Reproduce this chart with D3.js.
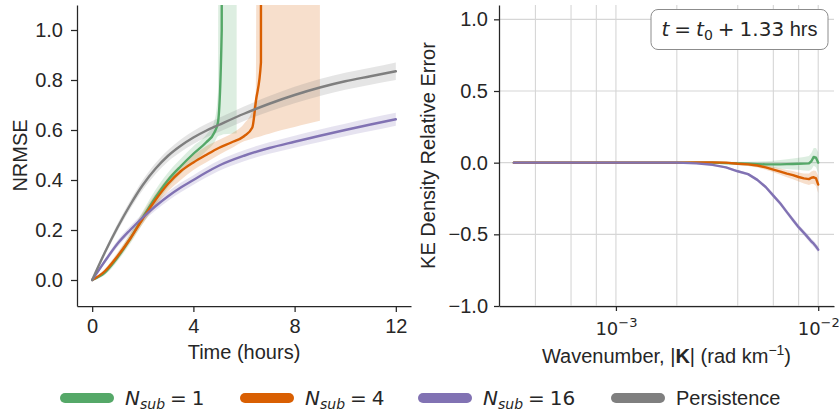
<!DOCTYPE html>
<html>
<head>
<meta charset="utf-8">
<script src="https://cdn.jsdelivr.net/npm/d3@7"></script>
<style>
  html, body { margin: 0; padding: 0; background: #ffffff; }
  svg { display: block; }
</style>
</head>
<body>
<script>
// ---------------- DATA ----------------
// Left panel: NRMSE vs time (hours)
const leftXTicks = [0, 4, 8, 12];
const leftYTicks = [0.0, 0.2, 0.4, 0.6, 0.8, 1.0];

const nsub1Time = [0, 0.5, 1, 1.5, 2, 2.5, 3, 3.5, 4, 4.5, 4.83, 4.97, 5.12, 5.2, 5.5, 5.71];
const nsub1Mean = [0, 0.03, 0.09, 0.165, 0.25, 0.33, 0.40, 0.455, 0.505, 0.55, 0.59, 0.63, 1.0, 50, 50, 50];
const nsub1Lo   = [0, 0.02, 0.075, 0.145, 0.225, 0.30, 0.37, 0.425, 0.47, 0.515, 0.55, 0.575, 0.58, 0.583, 0.585, 0.587];
const nsub1Hi   = [0, 0.04, 0.105, 0.185, 0.275, 0.36, 0.43, 0.485, 0.535, 0.58, 0.635, 0.75, 30, 30, 30, 30];

const nsub4Time = [0, 0.5, 1, 1.5, 2, 2.5, 3, 3.5, 4, 4.5, 5, 5.5, 6, 6.33, 6.47, 6.67, 6.75, 7, 7.5, 8, 8.5, 9];
const nsub4Mean = [0, 0.035, 0.095, 0.165, 0.245, 0.32, 0.385, 0.435, 0.47, 0.50, 0.528, 0.55, 0.575, 0.61, 0.715, 0.87, 50, 50, 50, 50, 50, 50];
const nsub4Lo   = [0, 0.025, 0.08, 0.15, 0.225, 0.295, 0.355, 0.40, 0.44, 0.47, 0.50, 0.527, 0.555, 0.565, 0.57, 0.575, 0.578, 0.585, 0.60, 0.612, 0.625, 0.637];
const nsub4Hi   = [0, 0.045, 0.11, 0.185, 0.27, 0.345, 0.41, 0.46, 0.50, 0.535, 0.56, 0.585, 0.625, 0.68, 0.76, 30, 30, 30, 30, 30, 30, 30];

const nsub16Time = [0, 0.5, 1, 1.5, 2, 2.5, 3, 3.5, 4, 4.5, 5, 6, 7, 8, 9, 10, 11, 12];
const nsub16Mean = [0, 0.075, 0.145, 0.20, 0.25, 0.295, 0.335, 0.37, 0.40, 0.43, 0.457, 0.497, 0.528, 0.553, 0.577, 0.600, 0.622, 0.643];
const nsub16Lo   = [0, 0.066, 0.132, 0.185, 0.234, 0.278, 0.317, 0.351, 0.381, 0.41, 0.436, 0.475, 0.505, 0.529, 0.552, 0.575, 0.596, 0.617];
const nsub16Hi   = [0, 0.084, 0.158, 0.215, 0.266, 0.312, 0.353, 0.389, 0.419, 0.45, 0.478, 0.519, 0.551, 0.577, 0.602, 0.625, 0.648, 0.669];

const persTime = [0, 0.5, 1, 1.5, 2, 2.5, 3, 3.5, 4, 4.5, 5, 6, 7, 8, 9, 10, 11, 12];
const persMean = [0, 0.11, 0.21, 0.30, 0.38, 0.445, 0.497, 0.537, 0.57, 0.597, 0.62, 0.665, 0.705, 0.74, 0.77, 0.795, 0.815, 0.835];
const persLo   = [0, 0.10, 0.195, 0.283, 0.36, 0.423, 0.474, 0.512, 0.544, 0.57, 0.592, 0.636, 0.674, 0.707, 0.736, 0.761, 0.781, 0.8];
const persHi   = [0, 0.12, 0.225, 0.317, 0.40, 0.467, 0.52, 0.562, 0.596, 0.624, 0.648, 0.694, 0.736, 0.773, 0.804, 0.829, 0.849, 0.87];

// Right panel: KE density relative error vs wavenumber
const rightYTicks = [-1.0, -0.5, 0.0, 0.5, 1.0];
const rightXTicks = [1e-3, 1e-2];
const rightXTickExp = ["−3", "−2"];
const rightGridK = [4e-4, 6e-4, 8e-4, 1e-3, 2e-3, 4e-3, 6e-3, 8e-3, 1e-2];

const wavenumber = [3.13e-4, 5e-4, 1e-3, 1.5e-3, 2e-3, 2.5e-3, 3e-3, 3.5e-3, 4e-3, 4.5e-3, 5e-3, 5.5e-3, 6e-3, 6.5e-3, 7e-3, 7.5e-3, 8e-3, 8.5e-3, 9e-3, 9.25e-3, 9.5e-3, 9.75e-3, 1e-2];
const keNsub1  = [0, 0, 0, 0, 0, 0.0, 0.0, -0.003, -0.005, -0.008, -0.01, -0.012, -0.012, -0.012, -0.01, -0.009, -0.008, -0.007, -0.005, 0.01, 0.04, 0.035, 0.0];
const keNsub1Err = [0, 0, 0, 0, 0.002, 0.004, 0.006, 0.009, 0.012, 0.015, 0.018, 0.022, 0.026, 0.03, 0.034, 0.038, 0.042, 0.047, 0.052, 0.057, 0.062, 0.067, 0.072];
const keNsub4  = [0, 0, 0, 0, 0, 0.002, 0.002, 0.0, -0.008, -0.012, -0.02, -0.033, -0.048, -0.062, -0.077, -0.087, -0.1, -0.11, -0.115, -0.105, -0.102, -0.11, -0.153];
const keNsub4Err = [0, 0, 0, 0, 0.002, 0.003, 0.005, 0.007, 0.009, 0.011, 0.013, 0.016, 0.019, 0.022, 0.025, 0.028, 0.031, 0.035, 0.04, 0.043, 0.047, 0.052, 0.058];
const keNsub16 = [0, 0, 0, 0, 0, -0.005, -0.015, -0.033, -0.06, -0.08, -0.12, -0.17, -0.23, -0.285, -0.345, -0.40, -0.45, -0.49, -0.53, -0.55, -0.565, -0.585, -0.607];
const keNsub16Err = [0, 0, 0, 0, 0.003, 0.004, 0.005, 0.007, 0.008, 0.009, 0.011, 0.012, 0.014, 0.015, 0.016, 0.017, 0.018, 0.019, 0.02, 0.02, 0.021, 0.021, 0.022];

const legendLabels = ["1", "4", "16", "Persistence"];
const colors = ["#55a868", "#d95f02", "#8172b3", "#7f7f7f"];

// ---------------- DRAW ----------------
const W = 839, H = 415;
const FONT = "'Liberation Sans', Arial, sans-serif";
const MATH = "'DejaVu Sans', sans-serif";
const INK = "#262626";

const svg = d3.select("body").append("svg").attr("width", W).attr("height", H);
const defs = svg.append("defs");

// ---- Left panel ----
const xL = d3.scaleLinear().domain([-0.6, 12.6]).range([77, 411]);
const yL = d3.scaleLinear().domain([-0.104, 1.1]).range([306, 5]);

defs.append("clipPath").attr("id", "clipL").append("rect")
  .attr("x", 77).attr("y", 5).attr("width", 334).attr("height", 301);

const gL = svg.append("g");
const plotL = gL.append("g").attr("clip-path", "url(#clipL)");

function zipSeries(t, m, lo, hi) {
  return t.map((d, i) => ({ x: d, m: m[i], lo: lo[i], hi: hi[i] }));
}
const leftSeries = [
  zipSeries(nsub1Time, nsub1Mean, nsub1Lo, nsub1Hi),
  zipSeries(nsub4Time, nsub4Mean, nsub4Lo, nsub4Hi),
  zipSeries(nsub16Time, nsub16Mean, nsub16Lo, nsub16Hi),
  zipSeries(persTime, persMean, persLo, persHi)
];

const areaL = d3.area().curve(d3.curveMonotoneX).x(d => xL(d.x)).y0(d => yL(d.lo)).y1(d => yL(d.hi));
const lineL = d3.line().curve(d3.curveMonotoneX).x(d => xL(d.x)).y(d => yL(d.m));

leftSeries.forEach((s, i) => {
  plotL.append("path").attr("d", areaL(s)).attr("fill", colors[i]).attr("fill-opacity", 0.2).attr("stroke", "none");
});
leftSeries.forEach((s, i) => {
  plotL.append("path").attr("d", lineL(s)).attr("fill", "none").attr("stroke", colors[i])
    .attr("stroke-width", 2.4).attr("stroke-linejoin", "round").attr("stroke-linecap", "round");
});

const axLy = gL.append("g").attr("transform", "translate(77,0)")
  .call(d3.axisLeft(yL).tickValues(leftYTicks).tickFormat(d3.format(".1f")).tickSize(6).tickSizeOuter(0).tickPadding(8));
const axLx = gL.append("g").attr("transform", "translate(0,306)")
  .call(d3.axisBottom(xL).tickValues(leftXTicks).tickFormat(d3.format("d")).tickSize(6).tickSizeOuter(0).tickPadding(7));
[axLy, axLx].forEach(a => {
  a.selectAll("text").attr("font-size", 20).attr("font-family", FONT).attr("fill", INK);
  a.selectAll("line").attr("stroke", INK).attr("stroke-width", 1.25);
  a.select(".domain").attr("stroke", INK).attr("stroke-width", 1.25);
});

gL.append("text").attr("x", 244).attr("y", 359).attr("text-anchor", "middle")
  .attr("font-size", 20).attr("font-family", FONT).attr("fill", INK).text("Time (hours)");
gL.append("text").attr("transform", "translate(27,155.5) rotate(-90)").attr("text-anchor", "middle")
  .attr("font-size", 20).attr("font-family", FONT).attr("fill", INK).text("NRMSE");

// ---- Right panel ----
const xR = d3.scaleLog().domain([Math.pow(10, -3.578), Math.pow(10, -1.922)]).range([499, 834]);
const yR = d3.scaleLinear().domain([-1.0, 1.1]).range([306, 5]);

defs.append("clipPath").attr("id", "clipR").append("rect")
  .attr("x", 499).attr("y", 5).attr("width", 335).attr("height", 301);

const gR = svg.append("g");
// grid
gR.selectAll(".vgrid").data(rightGridK).enter().append("line")
  .attr("x1", d => xR(d)).attr("x2", d => xR(d)).attr("y1", 5).attr("y2", 306)
  .attr("stroke", "#d6d6d6").attr("stroke-width", 1.1);
gR.selectAll(".hgrid").data(rightYTicks).enter().append("line")
  .attr("x1", 499).attr("x2", 834).attr("y1", d => yR(d)).attr("y2", d => yR(d))
  .attr("stroke", "#d6d6d6").attr("stroke-width", 1.1);

const plotR = gR.append("g").attr("clip-path", "url(#clipR)");
const rightSeries = [
  wavenumber.map((k, i) => ({ x: k, m: keNsub1[i], lo: keNsub1[i] - keNsub1Err[i], hi: keNsub1[i] + keNsub1Err[i] })),
  wavenumber.map((k, i) => ({ x: k, m: keNsub4[i], lo: keNsub4[i] - keNsub4Err[i], hi: keNsub4[i] + keNsub4Err[i] })),
  wavenumber.map((k, i) => ({ x: k, m: keNsub16[i], lo: keNsub16[i] - keNsub16Err[i], hi: keNsub16[i] + keNsub16Err[i] }))
];
const areaR = d3.area().x(d => xR(d.x)).y0(d => yR(d.lo)).y1(d => yR(d.hi));
const lineR = d3.line().x(d => xR(d.x)).y(d => yR(d.m));
rightSeries.forEach((s, i) => {
  plotR.append("path").attr("d", areaR(s)).attr("fill", colors[i]).attr("fill-opacity", 0.2);
});
rightSeries.forEach((s, i) => {
  plotR.append("path").attr("d", lineR(s)).attr("fill", "none").attr("stroke", colors[i])
    .attr("stroke-width", 2.4).attr("stroke-linejoin", "round").attr("stroke-linecap", "round");
});

const axRy = gR.append("g").attr("transform", "translate(499,0)")
  .call(d3.axisLeft(yR).tickValues(rightYTicks).tickFormat(d3.format(".1f")).tickSize(5).tickSizeOuter(0).tickPadding(6));
const axRx = gR.append("g").attr("transform", "translate(0,306)")
  .call(d3.axisBottom(xR).tickValues(rightXTicks).tickFormat("").tickSize(5).tickSizeOuter(0));
[axRy, axRx].forEach(a => {
  a.selectAll("text").attr("font-size", 20).attr("font-family", FONT).attr("fill", INK);
  a.selectAll("line").attr("stroke", INK).attr("stroke-width", 1.25);
  a.select(".domain").attr("stroke", INK).attr("stroke-width", 1.25);
});
// log tick labels 10^-n
axRx.selectAll(".tick").each(function(d, i) {
  const t = d3.select(this).append("text").attr("y", 29).attr("text-anchor", "middle")
    .attr("font-family", MATH).attr("fill", INK).attr("font-size", 18);
  t.append("tspan").text("10");
  t.append("tspan").attr("font-size", 13).attr("dy", -8).text(rightXTickExp[i]);
});

const xlabR = gR.append("text").attr("x", 666.5).attr("y", 363).attr("text-anchor", "middle")
  .attr("font-size", 20).attr("font-family", FONT).attr("fill", INK);
xlabR.append("tspan").text("Wavenumber, |");
xlabR.append("tspan").attr("font-weight", "bold").text("K");
xlabR.append("tspan").text("| (rad km");
xlabR.append("tspan").attr("font-size", 14).attr("dy", -8).text("−1");
xlabR.append("tspan").attr("dy", 8).text(")");

gR.append("text").attr("transform", "translate(435,155.5) rotate(-90)").attr("text-anchor", "middle")
  .attr("font-size", 20).attr("font-family", FONT).attr("fill", INK).text("KE Density Relative Error");

// annotation box
gR.append("rect").attr("x", 651).attr("y", 9.5).attr("width", 177).attr("height", 40).attr("rx", 7)
  .attr("fill", "#ffffff").attr("stroke", "#8c8c8c").attr("stroke-width", 1);
const ann = gR.append("text").attr("x", 739.5).attr("y", 36).attr("text-anchor", "middle")
  .attr("font-size", 20).attr("font-family", MATH).attr("fill", INK);
ann.append("tspan").attr("font-style", "italic").text("t");
ann.append("tspan").text("\u2005=\u2005");
ann.append("tspan").attr("font-style", "italic").text("t");
ann.append("tspan").attr("font-size", 14).attr("dy", 4).text("0");
ann.append("tspan").attr("dy", -4).text("\u2005+\u20051.33");
ann.append("tspan").attr("font-family", FONT).text(" hrs");

// ---- Legend ----
const legendX = [60, 240, 418, 611];
const gLeg = svg.append("g");
legendLabels.forEach((lab, i) => {
  const x0 = legendX[i];
  gLeg.append("line").attr("x1", x0 + 5).attr("x2", x0 + 49).attr("y1", 398).attr("y2", 398)
    .attr("stroke", colors[i]).attr("stroke-width", 10).attr("stroke-linecap", "round");
  const t = gLeg.append("text").attr("x", x0 + 65).attr("y", 405).attr("font-size", 20).attr("fill", INK);
  if (i < 3) {
    t.attr("font-family", MATH);
    t.append("tspan").attr("font-style", "italic").text("N");
    t.append("tspan").attr("font-style", "italic").attr("font-size", 14).attr("dy", 4).text("sub");
    t.append("tspan").attr("dy", -4).text("\u2005=\u2005" + lab);
  } else {
    t.attr("font-family", FONT).text(lab);
  }
});
</script>
</body>
</html>
